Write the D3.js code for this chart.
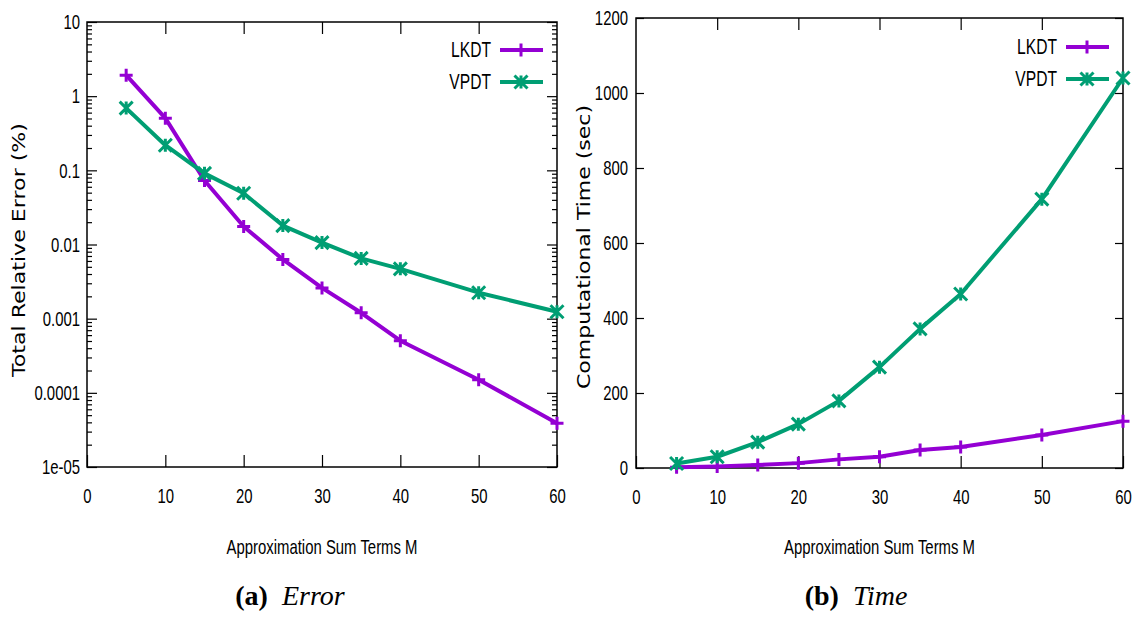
<!DOCTYPE html>
<html>
<head>
<meta charset="utf-8">
<script src="https://cdn.jsdelivr.net/npm/d3@7"></script>
<style>
  body { margin: 0; background: #fff; }
  .tick text { font-family: 'Liberation Sans', Arial, sans-serif; font-size: 21px; fill: #000; }
  .domain { display: none; }
  .tick line { stroke: #000; stroke-width: 1.2; }
</style>
</head>
<body>
<div id="viz"></div>
<script>
// approximation sum terms M
const terms = [5, 10, 15, 20, 25, 30, 35, 40, 50, 60];
// total relative error (%)
const errorLKDT = [1.92, 0.505, 0.073, 0.0175, 0.0063, 0.0026, 0.0012, 0.000505, 0.00015, 0.000039];
const errorVPDT = [0.69, 0.218, 0.091, 0.049, 0.018, 0.0106, 0.0065, 0.0047, 0.00224, 0.00124];
// computational time (sec)
const timeLKDT = [2, 4, 8, 13, 23, 30, 48, 56, 88, 125];
const timeVPDT = [12, 30, 69, 117, 179, 269, 371, 464, 717, 1040];

const xTicks = [0, 10, 20, 30, 40, 50, 60];
const errorTicks = [1e-5, 1e-4, 1e-3, 1e-2, 1e-1, 1, 10];
const errorTickLabels = ["1e-05", "0.0001", "0.001", "0.01", "0.1", "1", "10"];
const timeTicks = [0, 200, 400, 600, 800, 1000, 1200];

const seriesNames = ["LKDT", "VPDT"];
const colors = ["#9400d3", "#009e73"];

// gnuplot used a narrow face; squeeze Liberation Sans horizontally
const squeeze = 0.71;

const svg = d3.select("#viz").append("svg")
    .attr("width", 1137)
    .attr("height", 617);

function narrow(sel) {
    sel.each(function () {
        const t = d3.select(this);
        const x = +t.attr("x") || 0;
        t.attr("x", x / squeeze).attr("transform", `scale(${squeeze},1)`);
    });
}

function marker(g, type, color, x, y) {
    const s = 6.5;
    const p = type === 0
        ? `M${x - s},${y}L${x + s},${y}M${x},${y - s}L${x},${y + s}`
        : `M${x - s},${y - s}L${x + s},${y + s}M${x - s},${y + s}L${x + s},${y - s}M${x},${y - s}L${x},${y + s}`;
    g.append("path").attr("d", p).attr("stroke", color).attr("stroke-width", 3).attr("fill", "none");
}

function panel(opts) {
    const { left, top, right, bottom } = opts;
    const g = svg.append("g");

    const x = d3.scaleLinear().domain([0, 60]).range([left, right]);
    const y = opts.y.range([bottom, top]);

    // bottom + top x ticks
    g.append("g").attr("transform", `translate(0,${bottom})`)
        .call(d3.axisBottom(x).tickValues(xTicks).tickSizeInner(-12).tickSizeOuter(0).tickPadding(29))
        .selectAll("text").attr("dy", "0.35em").call(narrow);
    g.append("g").attr("transform", `translate(0,${top})`)
        .call(d3.axisTop(x).tickValues(xTicks.slice(1, -1)).tickSizeInner(-12).tickSizeOuter(0).tickFormat(""));

    // left + right y ticks
    g.append("g").attr("transform", `translate(${left},0)`)
        .call(d3.axisLeft(y).tickValues(opts.yTicks).tickSizeInner(-opts.major).tickSizeOuter(0)
            .tickPadding(opts.pad).tickFormat((d, i) => opts.yLabels[i]))
        .selectAll("text").call(narrow);
    g.append("g").attr("transform", `translate(${right},0)`)
        .call(d3.axisRight(y).tickValues(opts.yTicks).tickSizeInner(-opts.major).tickSizeOuter(0).tickFormat(""));
    if (opts.minor) {
        g.append("g").attr("transform", `translate(${left},0)`)
            .call(d3.axisLeft(y).tickValues(opts.minor).tickSizeInner(-5).tickSizeOuter(0).tickFormat(""));
        g.append("g").attr("transform", `translate(${right},0)`)
            .call(d3.axisRight(y).tickValues(opts.minor).tickSizeInner(-5).tickSizeOuter(0).tickFormat(""));
    }

    // frame
    g.append("rect")
        .attr("x", left).attr("y", top)
        .attr("width", right - left).attr("height", bottom - top)
        .attr("fill", "none").attr("stroke", "#000").attr("stroke-width", 1.5);

    const line = d3.line().x((d, i) => x(terms[i])).y(d => y(d));
    opts.series.forEach((vals, k) => {
        g.append("path").datum(vals)
            .attr("d", line)
            .attr("fill", "none")
            .attr("stroke", colors[k])
            .attr("stroke-width", 4)
            .attr("stroke-linejoin", "round");
        vals.forEach((v, i) => marker(g, k, colors[k], x(terms[i]), y(v)));
    });

    // legend
    seriesNames.forEach((name, k) => {
        const ly = opts.legendY + k * 32;
        g.append("text")
            .attr("x", opts.legendX).attr("y", ly)
            .attr("text-anchor", "end").attr("dominant-baseline", "central")
            .attr("font-family", "'Liberation Sans', Arial, sans-serif").attr("font-size", 22)
            .text(name)
            .call(narrow);
        g.append("line")
            .attr("x1", opts.legendX + 9).attr("x2", opts.legendX + 52)
            .attr("y1", ly).attr("y2", ly)
            .attr("stroke", colors[k]).attr("stroke-width", 4);
        marker(g, k, colors[k], opts.legendX + 30, ly);
    });

    // axis titles
    g.append("text")
        .attr("transform", `translate(${opts.yTitleX},${opts.yTitleY}) rotate(-90)`)
        .attr("text-anchor", "middle")
        .attr("font-family", "'DejaVu Sans', sans-serif").attr("font-size", 17)
        .attr("textLength", opts.yTitleLen).attr("lengthAdjust", "spacingAndGlyphs")
        .text(opts.yTitle);
    g.append("text")
        .attr("x", (left + right) / 2).attr("y", 554)
        .attr("text-anchor", "middle")
        .attr("font-family", "'Liberation Sans', Arial, sans-serif").attr("font-size", 21)
        .text("Approximation Sum Terms M")
        .call(narrow);

    // caption
    const cap = g.append("text")
        .attr("x", opts.captionX).attr("y", 605)
        .attr("text-anchor", "middle")
        .attr("font-family", "'Liberation Serif', serif").attr("font-size", 28);
    cap.append("tspan").attr("font-weight", "bold").text(opts.captionTag);
    cap.append("tspan").attr("font-style", "italic").text("\u2002" + opts.captionText);
}

const minorLog = [];
errorTicks.slice(0, -1).forEach(d => {
    for (let m = 2; m <= 9; m++) minorLog.push(d * m);
});

panel({
    left: 87, top: 22, right: 557, bottom: 467,
    y: d3.scaleLog().domain([1e-5, 10]),
    yTicks: errorTicks, yLabels: errorTickLabels, major: 10, pad: 7, minor: minorLog,
    series: [errorLKDT, errorVPDT],
    legendX: 491, legendY: 50,
    yTitle: "Total Relative Error (%)", yTitleX: 25, yTitleY: 250, yTitleLen: 254,
    captionTag: "(a)", captionText: "Error", captionX: 290
});

panel({
    left: 636, top: 18, right: 1123, bottom: 468,
    y: d3.scaleLinear().domain([0, 1200]),
    yTicks: timeTicks, yLabels: timeTicks.map(String), major: 8, pad: 8, minor: null,
    series: [timeLKDT, timeVPDT],
    legendX: 1057, legendY: 47,
    yTitle: "Computational Time (sec)", yTitleX: 590, yTitleY: 247, yTitleLen: 284,
    captionTag: "(b)", captionText: "Time", captionX: 856
});
</script>
</body>
</html>
